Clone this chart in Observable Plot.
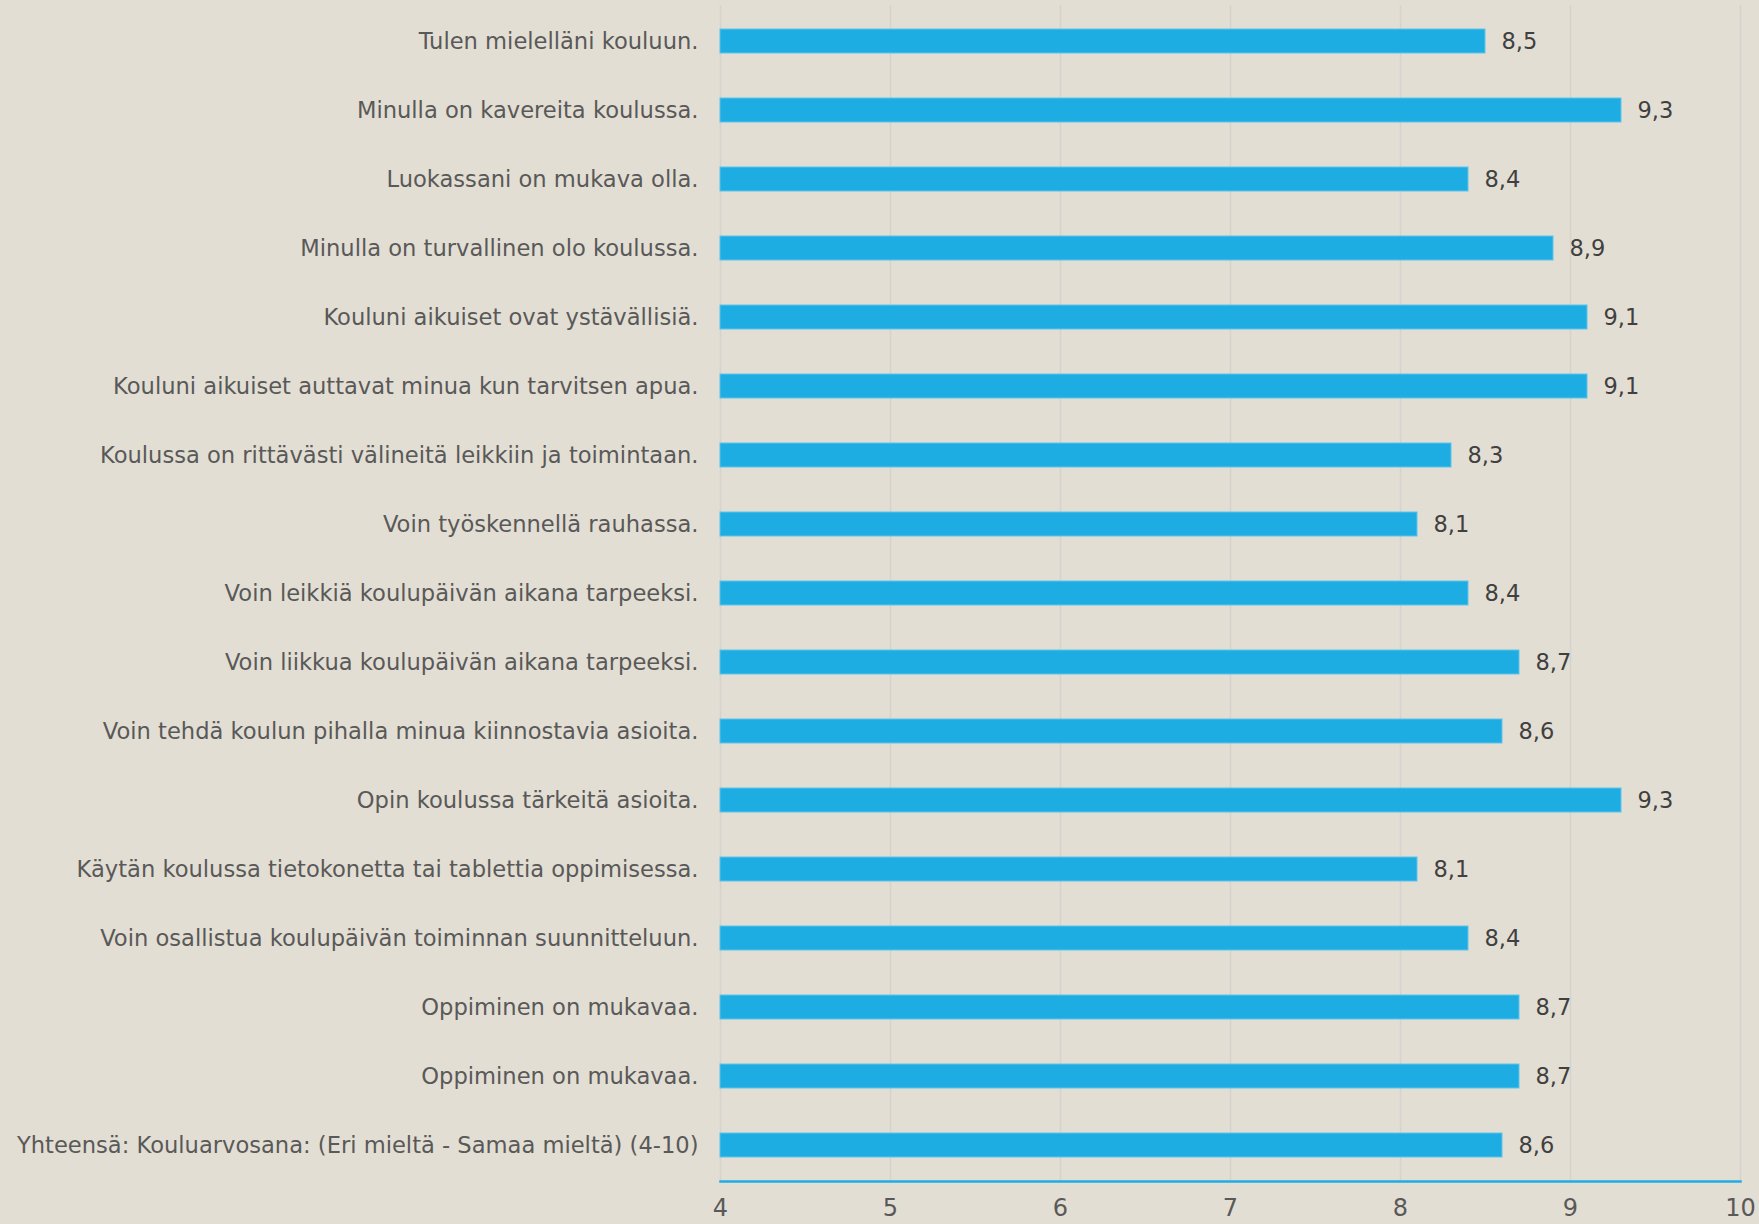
<!DOCTYPE html>
<html>
<head>
<meta charset="utf-8">
<script src="https://cdn.jsdelivr.net/npm/d3@7"></script>
<script src="https://cdn.jsdelivr.net/npm/@observablehq/plot@0.6"></script>
<style>
  html, body { margin: 0; padding: 0; background: #E3DED3; }
  #chart svg { display: block; }
</style>
</head>
<body>
<div id="chart"></div>
<script>
const labels = [
  "Tulen mielelläni kouluun.",
  "Minulla on kavereita koulussa.",
  "Luokassani on mukava olla.",
  "Minulla on turvallinen olo koulussa.",
  "Kouluni aikuiset ovat ystävällisiä.",
  "Kouluni aikuiset auttavat minua kun tarvitsen apua.",
  "Koulussa on rittävästi välineitä leikkiin ja toimintaan.",
  "Voin työskennellä rauhassa.",
  "Voin leikkiä koulupäivän aikana tarpeeksi.",
  "Voin liikkua koulupäivän aikana tarpeeksi.",
  "Voin tehdä koulun pihalla minua kiinnostavia asioita.",
  "Opin koulussa tärkeitä asioita.",
  "Käytän koulussa tietokonetta tai tablettia oppimisessa.",
  "Voin osallistua koulupäivän toiminnan suunnitteluun.",
  "Oppiminen on mukavaa.",
  "Oppiminen on mukavaa.",
  "Yhteensä: Kouluarvosana: (Eri mieltä - Samaa mieltä) (4-10)"
];
const values = [8.5, 9.3, 8.4, 8.9, 9.1, 9.1, 8.3, 8.1, 8.4, 8.7, 8.6, 9.3, 8.1, 8.4, 8.7, 8.7, 8.6];
const xTicks = [4, 5, 6, 7, 8, 9, 10];
const xMin = 4, xMax = 10;

const data = values.map((v, i) => ({i, label: labels[i], value: v, base: xMin}));
const fmt = v => v.toFixed(1).replace(".", ",");
const font = "'DejaVu Sans', sans-serif";

const chart = Plot.plot({
  width: 1759,
  height: 1224,
  marginLeft: 720,
  marginRight: 19,
  marginTop: 5,
  marginBottom: 43,
  style: {background: "#E3DED3", fontFamily: font, color: "#595959"},
  x: {domain: [xMin, xMax], axis: null},
  y: {domain: d3.range(labels.length), paddingInner: 0.653, paddingOuter: 0.3265, axis: null},
  marks: [
    Plot.gridX(xTicks, {stroke: "#D5D3CE", strokeOpacity: 1, strokeWidth: 1.5}),
    Plot.barX(data, {y: "i", x1: "base", x2: "value", fill: "#1EADE3", stroke: "#5CC3EC", strokeWidth: 1}),
    Plot.text(data, {y: "i", x: "value", text: d => fmt(d.value), dx: 16, textAnchor: "start", fontSize: 22.5, fill: "#404040"}),
    Plot.axisY({tickSize: 0, tickPadding: 22, fontSize: 22.6, fill: "#595959", label: null, tickFormat: i => labels[i]}),
    Plot.axisX(xTicks, {tickSize: 0, tickPadding: 17, fontSize: 24, fill: "#595959", label: null, tickFormat: d => d}),
    Plot.frame({anchor: "bottom", stroke: "#1EADE3", strokeWidth: 2.5})
  ]
});
document.getElementById("chart").appendChild(chart);
</script>
</body>
</html>
